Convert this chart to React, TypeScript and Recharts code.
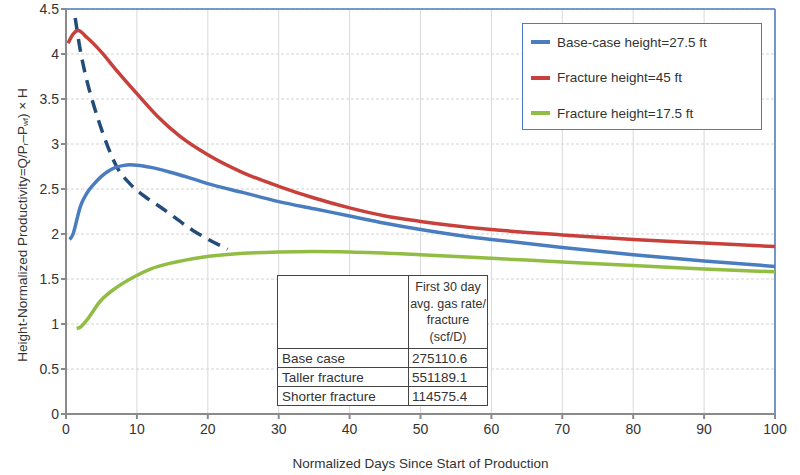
import React from "react"
import { CartesianGrid, Line, LineChart, ReferenceLine, XAxis, YAxis } from "recharts"

// days / productivity
const baseDays = [0.5, 1, 1.5, 2, 3, 4, 5, 6, 7, 8, 9, 10, 12, 15, 18, 20, 25, 30, 35, 40, 45, 50, 55, 60, 70, 80, 90, 100]
const baseVals = [1.94, 2.0, 2.15, 2.3, 2.46, 2.56, 2.64, 2.7, 2.74, 2.76, 2.77, 2.765, 2.74, 2.68, 2.61, 2.56, 2.46, 2.36, 2.28, 2.2, 2.12, 2.05, 1.99, 1.94, 1.85, 1.77, 1.7, 1.64]

const tallDays = [0.3, 1, 1.7, 3, 5, 7, 10, 13, 16, 20, 25, 30, 35, 40, 45, 50, 60, 70, 80, 90, 100]
const tallVals = [4.12, 4.22, 4.26, 4.18, 4.02, 3.83, 3.56, 3.3, 3.09, 2.88, 2.68, 2.53, 2.4, 2.29, 2.2, 2.14, 2.05, 1.99, 1.94, 1.9, 1.86]

const shortDays = [1.5, 2, 2.9, 4.8, 7.2, 9.5, 11.9, 15, 19, 25, 30, 35, 40, 50, 60, 70, 80, 90, 100]
const shortVals = [0.95, 0.965, 1.04, 1.25, 1.41, 1.52, 1.61, 1.68, 1.74, 1.785, 1.8, 1.805, 1.8, 1.77, 1.73, 1.69, 1.65, 1.61, 1.58]

const declineDays = [1.3, 2, 2.8, 3.8, 5.2, 7.2, 9, 11.4, 13.3, 17.9, 22.8]
const declineVals = [4.4, 4.05, 3.75, 3.46, 3.12, 2.74, 2.56, 2.4, 2.3, 2.04, 1.83]

const xTicks = [0, 10, 20, 30, 40, 50, 60, 70, 80, 90, 100]
const yTicks = [0, 0.5, 1, 1.5, 2, 2.5, 3, 3.5, 4, 4.5]

const legendNames = ["Base-case height=27.5 ft", "Fracture height=45 ft", "Fracture height=17.5 ft"]

const tableHeader = ["First 30 day", "avg. gas rate/", "fracture", "(scf/D)"]
const tableCases = ["Base case", "Taller fracture", "Shorter fracture"]
const tableRates = ["275110.6", "551189.1", "114575.4"]

const toPoints = (xs: number[], ys: number[]) => xs.map((x, i) => ({ x, y: ys[i] }))

const BLUE = "#4a7dbf"
const RED = "#c8403b"
const GREEN = "#92bd45"
const NAVY = "#234c79"
const FONT = "'Liberation Sans', Arial, Helvetica, sans-serif"

const colors = [BLUE, RED, GREEN]

function YLabel() {
    return (
        <text x={22} y={225} transform="rotate(-90 22 225)" textAnchor="middle" dominantBaseline="central" fontSize={13.5} fill="#333" fontFamily={FONT}>
            Height-Normalized Productivity=Q/P
            <tspan dy={3} fontSize={8}>r</tspan>
            <tspan dy={-3}>–P</tspan>
            <tspan dy={3} fontSize={8}>wf</tspan>
            <tspan dy={-3}>) × H</tspan>
        </text>
    )
}

export default function App() {
    return (
        <div style={{ position: "absolute", left: 0, top: 0, width: 800, height: 475, background: "#fff", fontFamily: FONT }}>
            <LineChart width={800} height={475} margin={{ top: 9, right: 25, bottom: 0, left: 0 }}>
                <CartesianGrid vertical={false} stroke="#d4d4d4" strokeDasharray="3 2" />
                <CartesianGrid horizontal={false} stroke="#d9d9d9" />
                <XAxis
                    type="number"
                    dataKey="x"
                    domain={[0, 100]}
                    ticks={xTicks}
                    height={61}
                    stroke="#8a8a8a"
                    strokeWidth={2}
                    tickSize={5}
                    tickMargin={5}
                    tick={{ fill: "#333", fontSize: 14, fontFamily: FONT }}
                    label={{ value: "Normalized Days Since Start of Production", position: "insideBottom", offset: 7, fill: "#333", fontSize: 13.5, fontFamily: FONT }}
                />
                <YAxis
                    type="number"
                    domain={[0, 4.5]}
                    ticks={yTicks}
                    width={66}
                    stroke="#8a8a8a"
                    strokeWidth={2}
                    tickSize={5}
                    allowDataOverflow
                    tick={{ fill: "#333", fontSize: 14, fontFamily: FONT }}
                    label={{ content: () => <YLabel /> }}
                />
                <ReferenceLine y={4.5} stroke={BLUE} strokeWidth={1.5} />
                <ReferenceLine x={100} stroke={BLUE} strokeWidth={1.5} />
                <Line data={toPoints(declineDays, declineVals)} dataKey="y" type="monotone" stroke={NAVY} strokeWidth={3.5} strokeDasharray="13 8" dot={false} isAnimationActive={false} />
                <Line data={toPoints(shortDays, shortVals)} dataKey="y" type="monotone" stroke={GREEN} strokeWidth={3.5} dot={false} isAnimationActive={false} />
                <Line data={toPoints(baseDays, baseVals)} dataKey="y" type="monotone" stroke={BLUE} strokeWidth={3.5} dot={false} isAnimationActive={false} />
                <Line data={toPoints(tallDays, tallVals)} dataKey="y" type="monotone" stroke={RED} strokeWidth={3.5} dot={false} isAnimationActive={false} />
            </LineChart>

            <div style={{ position: "absolute", left: 522, top: 23, width: 240, height: 107, border: `1px solid ${BLUE}`, background: "#fff", boxSizing: "border-box" }}>
                {legendNames.map((name, i) => (
                    <div key={name} style={{ position: "absolute", left: 8, top: 9 + i * 35.5, height: 18, display: "flex", alignItems: "center", fontSize: 13.5, color: "#333" }}>
                        <span style={{ display: "inline-block", width: 19, height: 4, background: colors[i], marginRight: 7 }} />
                        {name}
                    </div>
                ))}
            </div>

            <table style={{ position: "absolute", left: 277, top: 275, borderCollapse: "collapse", background: "#fff", fontSize: 13.5, color: "#333", fontFamily: FONT }}>
                <tbody>
                    <tr style={{ height: 73 }}>
                        <td style={{ width: 128, border: "1px solid #444" }} />
                        <td style={{ width: 78, border: "1px solid #444", textAlign: "center", lineHeight: "16.5px", padding: 0, fontSize: 12.5 }}>
                            {tableHeader.map((h) => (
                                <div key={h}>{h}</div>
                            ))}
                        </td>
                    </tr>
                    {tableCases.map((c, i) => (
                        <tr key={c} style={{ height: 19 }}>
                            <td style={{ border: "1px solid #444", padding: "0 4px", lineHeight: "17px" }}>{c}</td>
                            <td style={{ border: "1px solid #444", padding: "0 3px", lineHeight: "17px" }}>{tableRates[i]}</td>
                        </tr>
                    ))}
                </tbody>
            </table>
        </div>
    )
}
